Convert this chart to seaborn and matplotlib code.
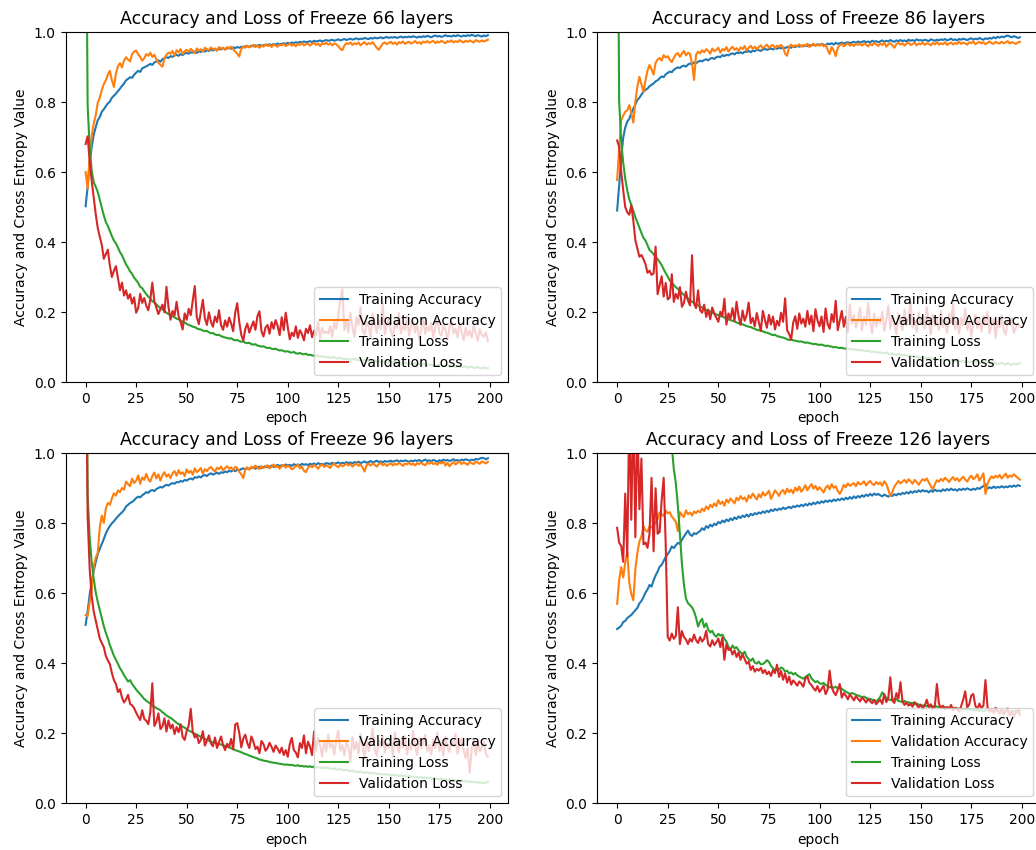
import matplotlib
matplotlib.use("Agg")
import matplotlib.pyplot as plt
import seaborn as sns

epochs = list(range(200))
series_labels = ["Training Accuracy", "Validation Accuracy", "Training Loss", "Validation Loss"]
panel_layers = [66, 86, 96, 126]

# ---------------- Freeze 66 layers ----------------
ta_66 = [
    .502, .558, .628, .671, .706, .728, .748, .757, .772, .779,
    .788, .796, .801, .812, .818, .824, .831, .838, .846, .853,
    .862, .866, .871, .869, .878, .884, .889, .886, .896, .899,
    .902, .905, .909, .906, .913, .916, .919, .915, .922, .925,
    .928, .926, .931, .929, .933, .935, .932, .937, .934, .939,
    .940, .938, .942, .941, .944, .940, .945, .943, .947, .944,
    .948, .946, .950, .947, .951, .949, .952, .950, .954, .951,
    .953, .955, .952, .956, .954, .957, .955, .958, .956, .959,
    .960, .957, .961, .959, .962, .960, .963, .961, .962, .964,
    .963, .965, .962, .966, .964, .967, .965, .966, .968, .966,
    .969, .967, .970, .968, .971, .969, .972, .970, .973, .971,
    .972, .974, .971, .975, .973, .974, .976, .973, .975, .977,
    .975, .976, .978, .975, .977, .979, .976, .978, .980, .977,
    .979, .981, .978, .980, .982, .979, .981, .980, .983, .981,
    .980, .983, .981, .984, .982, .983, .985, .982, .984, .986,
    .983, .985, .984, .986, .983, .985, .987, .984, .986, .985,
    .987, .985, .988, .986, .984, .987, .985, .988, .986, .989,
    .987, .985, .988, .990, .987, .989, .986, .988, .991, .988,
    .989, .987, .990, .988, .991, .989, .987, .990, .988, .991,
    .989, .992, .990, .988, .991, .989, .987, .990, .988, .991,
]
va_66 = [
    .600, .552, .641, .702, .738, .762, .798, .812, .834, .851,
    .862, .878, .889, .862, .843, .881, .902, .911, .899, .918,
    .928, .921, .916, .937, .944, .947, .936, .929, .918, .925,
    .937, .932, .941, .929, .935, .922, .912, .906, .901, .924,
    .935, .941, .938, .946, .932, .948, .942, .951, .937, .945,
    .949, .943, .952, .946, .939, .953, .947, .951, .944, .955,
    .951, .948, .956, .950, .953, .946, .957, .952, .955, .949,
    .957, .953, .958, .951, .944, .938, .930, .952, .959, .955,
    .961, .956, .959, .963, .957, .961, .955, .962, .958, .964,
    .960, .963, .957, .965, .961, .958, .964, .962, .966, .960,
    .963, .967, .961, .965, .959, .966, .963, .968, .962, .965,
    .967, .961, .966, .969, .963, .967, .960, .968, .965, .969,
    .964, .968, .962, .967, .965, .959, .952, .948, .961, .968,
    .966, .970, .963, .968, .965, .970, .962, .967, .971, .964,
    .968, .966, .971, .963, .955, .949, .958, .967, .970, .965,
    .969, .972, .966, .970, .964, .971, .968, .973, .966, .970,
    .972, .967, .970, .974, .968, .971, .966, .973, .970, .974,
    .969, .972, .975, .968, .973, .970, .975, .971, .968, .974,
    .972, .976, .970, .974, .971, .977, .973, .970, .975, .972,
    .976, .973, .970, .977, .974, .972, .976, .973, .975, .978,
]
tl_66 = [
    1.600, .790, .672, .603, .571, .558, .543, .521, .498, .476,
    .457, .446, .431, .417, .404, .396, .384, .371, .362, .349,
    .336, .327, .316, .309, .298, .291, .283, .272, .268, .259,
    .251, .244, .238, .231, .227, .222, .216, .211, .208, .203,
    .198, .194, .192, .188, .185, .181, .179, .176, .172, .170,
    .166, .163, .161, .158, .157, .153, .151, .150, .147, .145,
    .146, .142, .139, .140, .136, .134, .135, .131, .129, .127,
    .126, .124, .125, .121, .119, .120, .117, .115, .116, .112,
    .111, .112, .108, .107, .108, .104, .103, .101, .102, .099,
    .097, .098, .095, .094, .095, .092, .090, .091, .088, .087,
    .088, .085, .084, .086, .082, .081, .083, .080, .079, .081,
    .077, .078, .076, .075, .077, .073, .074, .072, .073, .071,
    .072, .069, .070, .071, .068, .067, .069, .066, .067, .065,
    .066, .064, .065, .067, .063, .062, .064, .061, .062, .063,
    .060, .061, .059, .062, .058, .059, .057, .058, .060, .056,
    .057, .055, .056, .058, .054, .055, .053, .054, .056, .052,
    .053, .051, .052, .054, .050, .051, .049, .052, .050, .048,
    .049, .050, .047, .048, .046, .049, .047, .045, .046, .048,
    .044, .045, .047, .043, .044, .046, .042, .043, .045, .041,
    .042, .044, .040, .041, .043, .039, .040, .042, .038, .040,
]
vl_66 = [
    .680, .702, .632, .575, .528, .480, .440, .415, .392, .352,
    .365, .378, .332, .300, .318, .331, .296, .262, .284, .247,
    .262, .238, .251, .224, .242, .198, .211, .252, .226, .240,
    .218, .205, .236, .284, .231, .212, .194, .208, .221, .199,
    .272, .214, .178, .203, .190, .229, .188, .171, .150, .196,
    .178, .209, .191, .232, .274, .186, .165, .201, .235, .182,
    .163, .199, .172, .158, .187, .171, .205, .162, .149, .176,
    .158, .184, .167, .145, .198, .225, .172, .135, .118, .152,
    .167, .141, .158, .173, .149, .188, .202, .145, .130, .156,
    .163, .138, .171, .152, .177, .160, .134, .185, .148, .198,
    .157, .122, .141, .131, .159, .126, .148, .137, .119, .152,
    .140, .162, .128, .147, .133, .171, .124, .155, .139, .145,
    .138, .160, .129, .171, .152, .190, .235, .265, .148, .176,
    .142, .198, .156, .129, .185, .163, .214, .147, .135, .172,
    .158, .127, .195, .168, .140, .177, .152, .223, .136, .164,
    .181, .146, .129, .170, .155, .198, .139, .162, .148, .187,
    .133, .158, .175, .142, .166, .124, .150, .181, .137, .160,
    .145, .169, .128, .157, .186, .140, .132, .163, .149, .121,
    .158, .175, .138, .152, .127, .168, .143, .119, .155, .132,
    .147, .126, .162, .139, .118, .151, .134, .129, .142, .116,
]

# ---------------- Freeze 86 layers ----------------
ta_86 = [
    .490, .562, .641, .698, .727, .744, .752, .768, .781, .793,
    .806, .812, .821, .829, .835, .838, .845, .849, .853, .859,
    .862, .868, .873, .871, .879, .883, .887, .885, .892, .896,
    .899, .897, .902, .904, .901, .907, .910, .908, .913, .911,
    .915, .918, .916, .920, .922, .919, .924, .926, .923, .928,
    .930, .928, .934, .931, .935, .933, .937, .939, .936, .941,
    .940, .942, .939, .944, .943, .946, .942, .947, .945, .949,
    .948, .946, .950, .952, .949, .951, .953, .950, .954, .952,
    .955, .953, .956, .954, .957, .958, .955, .959, .957, .960,
    .958, .961, .959, .962, .960, .963, .961, .964, .962, .965,
    .963, .966, .964, .962, .967, .965, .968, .964, .969, .966,
    .968, .970, .967, .969, .971, .968, .970, .972, .969, .973,
    .970, .972, .974, .971, .973, .970, .975, .972, .974, .971,
    .973, .976, .972, .975, .973, .977, .974, .972, .976, .974,
    .977, .974, .976, .973, .978, .975, .977, .974, .979, .976,
    .977, .975, .978, .976, .974, .979, .977, .975, .978, .976,
    .979, .977, .980, .976, .978, .981, .977, .979, .976, .980,
    .978, .981, .979, .977, .980, .982, .978, .981, .979, .983,
    .980, .978, .982, .980, .983, .981, .985, .982, .986, .984,
    .987, .985, .988, .990, .987, .985, .988, .986, .983, .985,
]
va_86 = [
    .577, .668, .748, .761, .772, .776, .791, .768, .741, .802,
    .844, .872, .851, .829, .862, .889, .906, .893, .878, .912,
    .921, .926, .918, .934, .927, .931, .921, .914, .926, .936,
    .940, .929, .938, .946, .933, .941, .937, .911, .863, .935,
    .944, .939, .948, .942, .951, .946, .938, .953, .945, .949,
    .955, .941, .951, .947, .957, .944, .952, .958, .949, .954,
    .946, .956, .951, .960, .947, .955, .961, .952, .958, .950,
    .957, .962, .953, .959, .964, .955, .960, .963, .954, .961,
    .958, .963, .956, .938, .932, .959, .964, .957, .962, .960,
    .965, .958, .963, .961, .966, .957, .962, .967, .960, .964,
    .961, .966, .959, .963, .950, .937, .957, .948, .931, .955,
    .962, .966, .959, .964, .968, .961, .965, .960, .967, .963,
    .966, .961, .968, .964, .959, .966, .962, .969, .965, .960,
    .967, .963, .970, .958, .965, .968, .962, .955, .966, .969,
    .964, .968, .961, .967, .970, .963, .966, .969, .962, .967,
    .965, .970, .963, .968, .966, .962, .969, .965, .971, .964,
    .968, .965, .971, .963, .967, .970, .964, .969, .966, .972,
    .966, .970, .967, .964, .971, .968, .973, .965, .969, .972,
    .967, .971, .965, .969, .973, .968, .966, .972, .969, .967,
    .972, .968, .970, .974, .967, .971, .969, .966, .970, .972,
]
tl_86 = [
    1.700, .802, .688, .627, .581, .547, .522, .506, .489, .471,
    .456, .441, .426, .412, .404, .391, .377, .372, .365, .358,
    .351, .343, .334, .322, .311, .301, .290, .283, .277, .271,
    .266, .260, .254, .249, .243, .238, .234, .229, .226, .222,
    .219, .215, .213, .209, .206, .204, .201, .198, .196, .193,
    .191, .188, .187, .184, .181, .179, .177, .175, .173, .170,
    .168, .166, .165, .162, .160, .158, .157, .154, .152, .149,
    .148, .146, .145, .142, .141, .139, .136, .134, .135, .131,
    .130, .128, .127, .125, .122, .120, .121, .119, .118, .117,
    .115, .116, .114, .112, .113, .111, .110, .108, .109, .107,
    .106, .107, .105, .103, .104, .102, .101, .099, .100, .098,
    .097, .098, .096, .095, .096, .094, .093, .094, .091, .092,
    .090, .091, .089, .088, .090, .087, .086, .087, .085, .084,
    .085, .083, .082, .084, .081, .080, .082, .079, .078, .080,
    .077, .076, .078, .075, .074, .076, .073, .072, .074, .071,
    .070, .072, .069, .068, .070, .067, .066, .068, .065, .064,
    .066, .063, .062, .064, .061, .063, .060, .061, .059, .062,
    .058, .060, .057, .059, .056, .058, .060, .055, .057, .054,
    .056, .058, .053, .055, .057, .052, .054, .056, .051, .053,
    .055, .052, .050, .054, .051, .049, .053, .050, .052, .054,
]
vl_86 = [
    .690, .672, .601, .548, .500, .485, .478, .505, .461, .405,
    .382, .358, .363, .351, .337, .312, .318, .306, .310, .387,
    .251, .276, .302, .244, .283, .236, .241, .308, .229, .252,
    .238, .271, .215, .226, .258, .233, .219, .362, .224, .211,
    .262, .205, .198, .221, .186, .207, .179, .213, .195, .184,
    .172, .201, .189, .238, .164, .196, .181, .211, .175, .229,
    .188, .163, .204, .175, .192, .227, .168, .183, .159, .197,
    .172, .146, .203, .178, .155, .192, .164, .187, .150, .175,
    .161, .198, .172, .239, .148, .137, .121, .170, .188, .152,
    .196, .167, .181, .158, .203, .165, .190, .145, .208, .176,
    .159, .187, .143, .210, .166, .152, .194, .171, .232, .148,
    .175, .203, .158, .186, .142, .221, .167, .191, .155, .178,
    .212, .148, .187, .163, .226, .174, .139, .195, .158, .183,
    .167, .201, .146, .178, .218, .152, .189, .163, .137, .195,
    .171, .148, .207, .162, .184, .229, .156, .176, .143, .199,
    .165, .188, .152, .214, .170, .136, .193, .161, .179, .148,
    .203, .157, .182, .141, .196, .168, .224, .151, .177, .138,
    .185, .162, .210, .149, .173, .131, .166, .192, .154, .178,
    .145, .188, .167, .201, .139, .163, .180, .127, .172, .156,
    .190, .148, .135, .171, .163, .182, .140, .154, .167, .158,
]

# ---------------- Freeze 96 layers ----------------
ta_96 = [
    .510, .548, .596, .632, .664, .689, .712, .727, .741, .755,
    .771, .783, .792, .800, .806, .813, .820, .826, .831, .838,
    .848, .853, .858, .861, .866, .872, .876, .874, .880, .884,
    .889, .887, .893, .895, .892, .898, .901, .904, .902, .907,
    .910, .908, .912, .915, .913, .918, .917, .921, .919, .924,
    .922, .926, .928, .925, .932, .930, .934, .931, .936, .938,
    .935, .940, .943, .939, .942, .945, .941, .946, .944, .948,
    .946, .950, .948, .952, .949, .953, .951, .955, .957, .954,
    .957, .955, .958, .960, .956, .959, .962, .958, .961, .963,
    .960, .962, .965, .961, .964, .967, .963, .966, .964, .968,
    .965, .967, .964, .969, .966, .968, .965, .970, .967, .969,
    .966, .970, .968, .971, .967, .972, .969, .970, .968, .972,
    .971, .969, .973, .970, .972, .974, .970, .973, .971, .975,
    .972, .974, .971, .975, .973, .976, .972, .974, .977, .973,
    .975, .978, .974, .976, .979, .975, .977, .974, .978, .976,
    .977, .979, .976, .978, .980, .976, .979, .977, .980, .978,
    .976, .979, .977, .980, .978, .981, .977, .979, .982, .978,
    .980, .977, .981, .979, .976, .980, .978, .982, .979, .981,
    .978, .980, .983, .979, .981, .978, .982, .980, .983, .981,
    .979, .982, .980, .984, .982, .985, .987, .986, .983, .986,
]
va_96 = [
    .538, .535, .572, .611, .676, .702, .716, .789, .822, .801,
    .842, .858, .853, .871, .886, .879, .894, .889, .901, .896,
    .919, .912, .906, .928, .915, .922, .937, .913, .931, .924,
    .941, .926, .919, .935, .945, .928, .940, .922, .937, .946,
    .933, .940, .929, .943, .949, .936, .952, .941, .946, .935,
    .954, .944, .950, .939, .957, .946, .951, .958, .942, .955,
    .949, .957, .961, .953, .948, .959, .955, .962, .951, .958,
    .963, .956, .960, .952, .961, .958, .947, .940, .929, .955,
    .960, .953, .962, .957, .965, .959, .955, .963, .958, .961,
    .966, .957, .962, .968, .960, .964, .956, .963, .967, .959,
    .965, .961, .954, .958, .963, .968, .957, .962, .950, .946,
    .958, .965, .960, .967, .962, .956, .964, .969, .961, .966,
    .963, .958, .967, .970, .964, .960, .968, .963, .966, .971,
    .965, .969, .962, .967, .971, .964, .968, .960, .948, .966,
    .970, .965, .972, .967, .962, .969, .973, .966, .970, .964,
    .968, .972, .965, .970, .967, .973, .969, .964, .971, .968,
    .974, .967, .971, .965, .972, .969, .974, .968, .966, .973,
    .970, .975, .969, .972, .967, .974, .971, .976, .965, .973,
    .963, .970, .975, .968, .973, .977, .969, .974, .971, .967,
    .975, .972, .969, .976, .973, .970, .977, .974, .971, .976,
]
tl_96 = [
    1.800, .880, .760, .690, .641, .603, .576, .553, .529, .506,
    .487, .471, .452, .437, .421, .410, .398, .386, .377, .366,
    .357, .348, .352, .341, .333, .325, .318, .312, .305, .298,
    .293, .289, .285, .280, .276, .272, .269, .266, .260, .256,
    .251, .247, .244, .240, .235, .230, .226, .223, .219, .216,
    .212, .208, .205, .202, .199, .196, .193, .190, .187, .184,
    .181, .179, .176, .174, .173, .171, .169, .168, .166, .164,
    .162, .160, .157, .155, .152, .150, .148, .146, .143, .141,
    .139, .136, .134, .132, .130, .128, .125, .124, .122, .121,
    .120, .118, .117, .116, .115, .114, .113, .112, .111, .110,
    .111, .109, .110, .108, .107, .109, .106, .107, .105, .106,
    .104, .106, .103, .105, .102, .104, .101, .103, .100, .102,
    .101, .099, .098, .100, .097, .096, .098, .095, .094, .096,
    .093, .092, .094, .091, .090, .089, .091, .088, .087, .089,
    .086, .088, .085, .087, .084, .083, .085, .082, .084, .081,
    .083, .080, .082, .079, .081, .078, .080, .077, .079, .076,
    .078, .075, .077, .074, .076, .073, .075, .072, .074, .071,
    .073, .070, .072, .069, .071, .068, .070, .067, .069, .066,
    .068, .065, .067, .064, .066, .063, .065, .062, .064, .061,
    .063, .060, .062, .059, .061, .058, .060, .057, .059, .062,
]
vl_96 = [
    1.450, .820, .671, .592, .548, .522, .497, .471, .458, .446,
    .421, .408, .398, .372, .352, .341, .318, .326, .302, .288,
    .297, .310, .284, .280, .272, .259, .248, .238, .266, .241,
    .236, .226, .260, .343, .221, .233, .257, .212, .220, .243,
    .205, .237, .214, .225, .198, .218, .203, .226, .190, .181,
    .207, .222, .270, .204, .188, .196, .172, .181, .206, .165,
    .179, .194, .171, .163, .188, .158, .175, .191, .166, .152,
    .170, .161, .184, .154, .225, .229, .202, .160, .185, .196,
    .172, .158, .191, .176, .155, .162, .143, .178, .169, .150,
    .158, .173, .161, .147, .165, .156, .144, .159, .138, .152,
    .133, .169, .187, .152, .145, .131, .172, .158, .194, .143,
    .176, .162, .138, .205, .151, .187, .165, .133, .179, .148,
    .196, .159, .171, .140, .183, .208, .150, .167, .137, .174,
    .162, .121, .189, .153, .176, .142, .198, .165, .127, .184,
    .149, .171, .214, .155, .136, .180, .162, .193, .146, .172,
    .158, .189, .134, .203, .167, .145, .178, .159, .192, .140,
    .171, .153, .207, .164, .138, .185, .157, .174, .196, .148,
    .166, .139, .182, .158, .201, .150, .173, .135, .190, .161,
    .147, .178, .163, .199, .141, .170, .186, .152, .129, .158,
    .087, .155, .182, .137, .173, .148, .161, .176, .142, .133,
]

# ---------------- Freeze 126 layers ----------------
ta_126 = [
    .498, .502, .507, .518, .521, .529, .534, .538, .545, .552,
    .558, .571, .578, .589, .602, .611, .624, .619, .637, .651,
    .662, .676, .681, .693, .704, .712, .721, .734, .729, .737,
    .744, .741, .753, .762, .771, .779, .768, .764, .772, .769,
    .774, .778, .786, .781, .792, .787, .796, .791, .799, .795,
    .804, .800, .808, .803, .811, .806, .814, .809, .817, .812,
    .820, .815, .822, .818, .825, .819, .827, .823, .829, .826,
    .831, .828, .834, .830, .836, .832, .839, .835, .841, .837,
    .842, .839, .845, .841, .844, .847, .843, .849, .846, .851,
    .848, .853, .849, .855, .851, .857, .853, .859, .855, .861,
    .857, .863, .859, .865, .861, .866, .862, .868, .864, .869,
    .866, .871, .867, .873, .869, .875, .870, .877, .872, .878,
    .874, .880, .876, .882, .878, .884, .879, .885, .881, .884,
    .880, .877, .882, .879, .876, .881, .878, .883, .880, .885,
    .882, .887, .884, .889, .885, .891, .887, .892, .889, .894,
    .890, .895, .891, .893, .888, .894, .890, .896, .892, .894,
    .891, .897, .893, .898, .894, .899, .895, .897, .893, .898,
    .895, .899, .896, .900, .897, .895, .899, .896, .901, .898,
    .903, .906, .912, .899, .903, .900, .905, .901, .904, .902,
    .906, .902, .905, .903, .907, .904, .908, .905, .909, .907,
]
va_126 = [
    .570, .637, .675, .645, .688, .718, .630, .598, .580, .668,
    .715, .748, .762, .792, .780, .776, .791, .788, .794, .801,
    .812, .831, .826, .821, .836, .828, .832, .819, .812, .804,
    .778, .832, .824, .818, .837, .826, .831, .822, .834, .829,
    .836, .831, .842, .835, .848, .840, .853, .846, .857, .849,
    .866, .855, .862, .850, .868, .859, .871, .864, .857, .873,
    .866, .878, .869, .874, .862, .880, .872, .885, .876, .868,
    .883, .874, .889, .879, .885, .893, .870, .881, .894, .887,
    .878, .891, .895, .884, .899, .889, .896, .886, .902, .893,
    .905, .890, .898, .909, .894, .904, .912, .899, .907, .895,
    .903, .896, .888, .901, .908, .897, .912, .901, .906, .893,
    .884, .895, .910, .903, .914, .907, .911, .915, .906, .918,
    .911, .914, .920, .908, .916, .921, .913, .909, .918, .912,
    .917, .907, .920, .912, .896, .878, .890, .905, .913, .921,
    .914, .919, .924, .916, .926, .920, .913, .924, .918, .910,
    .919, .926, .922, .928, .917, .906, .898, .911, .923, .919,
    .927, .921, .930, .925, .918, .926, .932, .923, .929, .920,
    .927, .933, .925, .919, .930, .936, .926, .931, .940, .922,
    .931, .943, .884, .912, .926, .934, .929, .936, .931, .938,
    .928, .935, .942, .930, .937, .933, .940, .935, .929, .925,
]
tl_126 = [
    4.900, 4.300, 3.900, 3.600, 3.300, 3.050, 2.850, 2.650, 2.480, 2.320,
    2.180, 2.050, 1.930, 1.820, 1.720, 1.630, 1.550, 1.480, 1.420, 1.370,
    1.320, 1.280, 1.240, 1.200, 1.160, 1.120, 1.080, 1.020, .955, .915,
    .850, .770, .685, .625, .585, .572, .566, .560, .548, .530,
    .505, .519, .527, .503, .514, .497, .488, .493, .481, .476,
    .484, .479, .482, .470, .462, .447, .438, .451, .443, .446,
    .437, .431, .426, .433, .419, .412, .407, .414, .402, .399,
    .405, .397, .398, .402, .409, .404, .393, .386, .379, .384,
    .381, .388, .385, .376, .379, .371, .374, .368, .372, .366,
    .362, .359, .356, .361, .365, .369, .357, .351, .346, .349,
    .343, .341, .344, .338, .335, .331, .334, .330, .333, .328,
    .331, .327, .323, .319, .316, .312, .315, .313, .310, .308,
    .306, .303, .305, .301, .299, .298, .296, .294, .292, .296,
    .304, .317, .309, .301, .297, .295, .299, .296, .298, .292,
    .291, .289, .293, .288, .289, .286, .287, .284, .285, .282,
    .280, .279, .281, .277, .279, .276, .278, .275, .277, .274,
    .276, .273, .275, .272, .274, .271, .273, .270, .272, .269,
    .271, .268, .270, .267, .269, .266, .268, .265, .267, .264,
    .266, .263, .265, .268, .264, .262, .266, .263, .265, .261,
    .264, .262, .266, .263, .260, .264, .262, .265, .263, .265,
]
vl_126 = [
    .787, .745, .735, .690, .885, .705, 1.120, .810, 1.150, .760,
    1.100, .840, .985, .740, .745, .730, .770, .930, .720, .900,
    .770, .775, .866, .930, .740, .475, .465, .485, .470, .478,
    .560, .455, .492, .475, .468, .455, .470, .462, .482, .466,
    .458, .475, .462, .470, .493, .455, .448, .466, .452, .460,
    .471, .446, .474, .410, .455, .438, .442, .425, .437, .418,
    .431, .410, .426, .412, .399, .405, .381, .392, .376, .384,
    .379, .387, .372, .381, .369, .376, .364, .381, .372, .396,
    .361, .378, .353, .371, .345, .362, .339, .351, .344, .336,
    .348, .342, .333, .356, .363, .344, .338, .329, .322, .335,
    .318, .327, .336, .312, .325, .379, .331, .318, .309, .324,
    .341, .302, .315, .308, .297, .311, .303, .294, .306, .299,
    .291, .302, .296, .288, .298, .292, .286, .295, .283, .290,
    .296, .284, .312, .289, .301, .360, .293, .287, .315, .299,
    .346, .292, .281, .288, .279, .284, .276, .289, .281, .274,
    .282, .270, .279, .296, .275, .283, .268, .278, .341, .285,
    .272, .279, .268, .275, .270, .281, .266, .273, .269, .262,
    .278, .296, .320, .274, .283, .308, .312, .279, .268, .285,
    .271, .280, .352, .275, .262, .270, .258, .273, .265, .256,
    .268, .254, .263, .271, .250, .262, .247, .259, .266, .252,
]

panels = [
    (ta_66, va_66, tl_66, vl_66),
    (ta_86, va_86, tl_86, vl_86),
    (ta_96, va_96, tl_96, vl_96),
    (ta_126, va_126, tl_126, vl_126),
]
colors = ["#1f77b4", "#ff7f0e", "#2ca02c", "#d62728"]

W, H = 1036, 850
fig = plt.figure(figsize=(W / 100, H / 100), dpi=100)
# axes rectangles in pixels: (left, top, width, height)
rects = [(65.5, 32, 442.5, 350), (597, 32, 443, 350),
         (65.5, 453.3, 442.5, 350), (597, 453.3, 443, 350)]

for (l, t, w, h), layers, series in zip(rects, panel_layers, panels):
    ax = fig.add_axes([l / W, 1 - (t + h) / H, w / W, h / H])
    for vals, lab, col in zip(series, series_labels, colors):
        sns.lineplot(x=epochs[:len(vals)], y=vals, ax=ax, label=lab,
                     color=col, linewidth=1.5, estimator=None, sort=False)
    ax.set_ylim(0, 1.0)
    ax.set_xlim(-9.95, 208.95)
    ax.set_xticks([0, 25, 50, 75, 100, 125, 150, 175, 200])
    ax.set_title(f"Accuracy and Loss of Freeze {layers} layers", fontsize=12.5)
    ax.set_xlabel("epoch", fontsize=10)
    ax.set_ylabel("Accuracy and Cross Entropy Value", fontsize=10)
    ax.legend(loc="lower right", fontsize=10, framealpha=0.8)

fig.savefig("out.png", dpi=100)
